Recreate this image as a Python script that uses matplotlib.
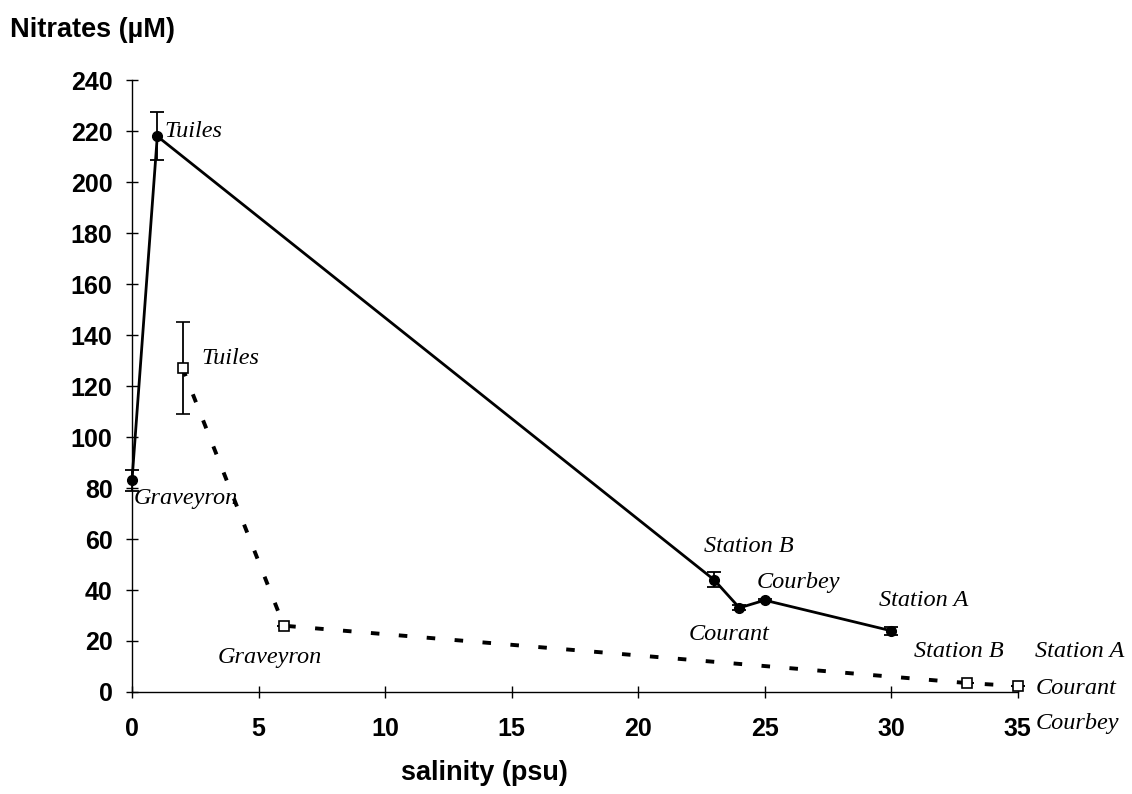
import matplotlib.pyplot as plt

# river stations (solid line, filled circles)
sal_river = [0, 1, 23, 24, 25, 30]
no3_river = [83, 218, 44, 33, 36, 24]
err_river = [4, 9.5, 3, 1, 0.5, 1.5]

# second campaign (dashed line, open squares)
sal_sea = [2, 6, 33, 35]
no3_sea = [127, 26, 3.5, 2.3]
err_sea = [18, 0, 0, 0]

# station labels: (text, x, y)
labels_river = [("Tuiles", 1.3, 220), ("Graveyron", 0.05, 76),
                ("Station B", 22.6, 57), ("Courbey", 24.7, 43),
                ("Courant", 22.0, 22.5), ("Station A", 29.5, 36)]
labels_sea = [("Tuiles", 2.75, 131), ("Graveyron", 3.4, 13.5),
              ("Station B", 30.9, 16), ("Station A", 35.7, 16),
              ("Courant", 35.7, 1.5), ("Courbey", 35.7, -12.5)]

xticks = [0, 5, 10, 15, 20, 25, 30, 35]
yticks = list(range(0, 241, 20))

plt.rcParams['font.family'] = ['Liberation Sans', 'DejaVu Sans']

fig = plt.figure(figsize=(11.32, 7.94), dpi=100)
ax = fig.add_axes([0.1166, 0.1285, 0.7825, 0.7705])

ax.errorbar(sal_river, no3_river, yerr=err_river, color='black', lw=2.0,
            marker='o', ms=7, mfc='black', mec='black', ecolor='black',
            elinewidth=1.3, capsize=5, capthick=1.3, clip_on=False, zorder=3)

ax.errorbar(sal_sea, no3_sea, yerr=err_sea, color='black', lw=2.8,
            ls=(0, (2.2, 5.0)), marker='s', ms=6.5, mfc='white', mec='black',
            mew=1.2, ecolor='black', elinewidth=1.3, capsize=5, capthick=1.3,
            clip_on=False, zorder=3)

for txt, x, y in labels_river + labels_sea:
    ax.text(x, y, txt, family='Liberation Serif', style='italic', fontsize=17.5,
            ha='left', va='center', clip_on=False)

ax.set_xlim(0, 35)
ax.set_ylim(0, 240)
ax.set_xticks(xticks)
ax.set_yticks(yticks)
for s in ['top', 'right']:
    ax.spines[s].set_visible(False)
for s in ['left', 'bottom']:
    ax.spines[s].set_linewidth(1.0)
ax.tick_params(direction='inout', length=8, width=1.0, labelsize=18)
ax.tick_params(axis='y', pad=10)
ax.tick_params(axis='x', pad=14)
for lab in ax.get_xticklabels() + ax.get_yticklabels():
    lab.set_fontweight('bold')

fig.text(0.009, 0.962, "Nitrates (µM)", fontsize=19.5, fontweight='bold',
         ha='left', va='center')
fig.text(0.428, 0.026, "salinity (psu)", fontsize=19.5, fontweight='bold',
         ha='center', va='center')

fig.savefig('out.png', dpi=100)
